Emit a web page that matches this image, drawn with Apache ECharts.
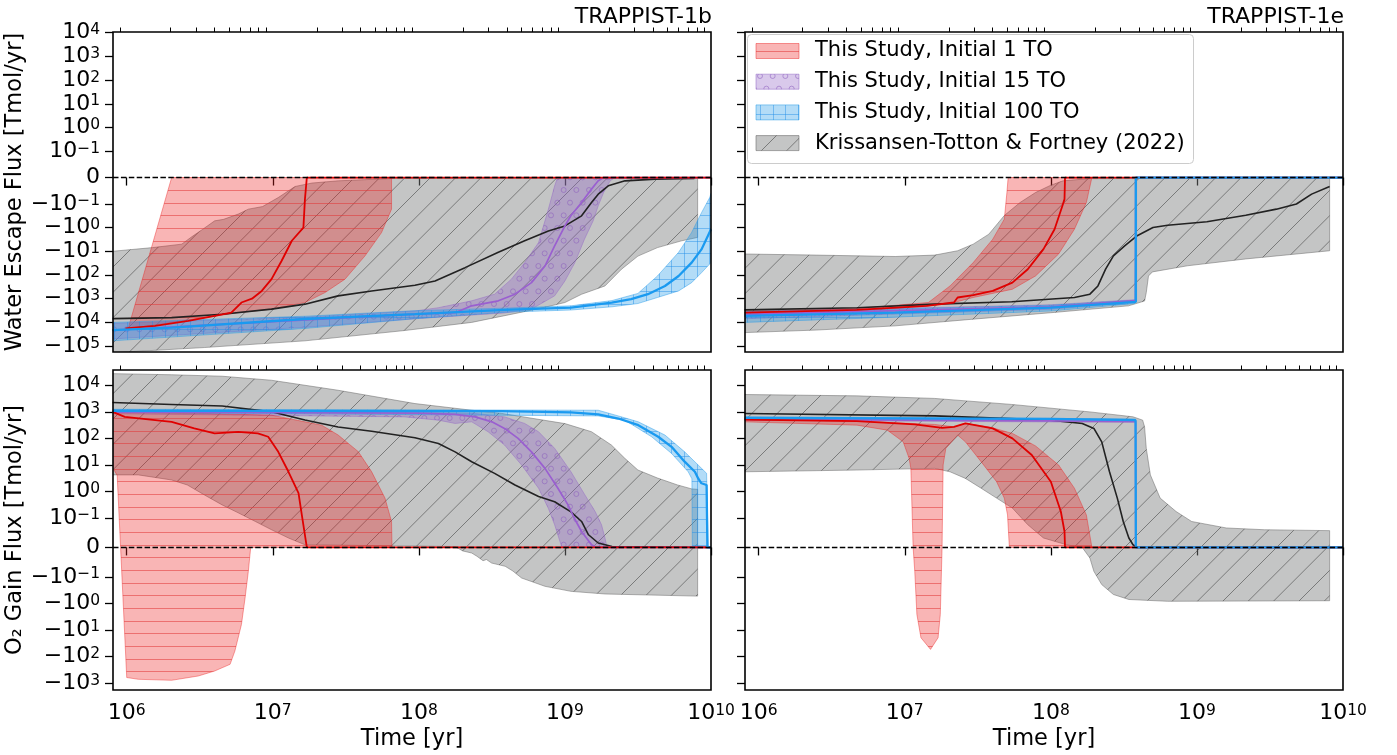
<!DOCTYPE html>
<html><head><meta charset="utf-8">
<script src="https://cdn.jsdelivr.net/npm/echarts@6/dist/echarts.min.js"></script>
<style>html,body{margin:0;padding:0;background:#fff}#c{width:1397px;height:755px}</style>
</head><body><div id="c"></div>
<script>
// ---------------- tick data ----------------
const xMajorYears = [1e6, 1e7, 1e8, 1e9, 1e10];
const yTicksTop = [1e4, 1e3, 1e2, 1e1, 1, 1e-1, 0, -1e-1, -1, -1e1, -1e2, -1e3, -1e4, -1e5];
const yTicksBottom = [1e4, 1e3, 1e2, 1e1, 1, 1e-1, 0, -1e-1, -1, -1e1, -1e2, -1e3];
const panelTitles = ['TRAPPIST-1b', 'TRAPPIST-1e'];
const legendNames = ['This Study, Initial 1 TO', 'This Study, Initial 15 TO', 'This Study, Initial 100 TO', 'Krissansen-Totton & Fortney (2022)'];

// ---------------- TRAPPIST-1b : water escape flux [Tmol/yr] ([time yr, flux]) ----------------
const b_we_gray_hi = [[8.0e5,-10],[1.5e6,-7],[2.38e6,-5],[2.8e6,-2.4],[3.3e6,-1.2],[4.0e6,-0.52],[4.6e6,-0.45],[5.8e6,-0.27],[6.8e6,-0.167],[8.5e6,-0.13],[1.09e7,-0.076],[1.42e7,-0.034],[1.85e7,-0.021],[2.8e7,-0.0125],[6.5e7,-0.0038],[5e8,-0.003],[8.1e9,-0.002]];
const b_we_gray_lo = [[8.0e5,-1.9e5],[3.4e6,-1.15e5],[1.66e7,-6e4],[8e7,-2.2e4],[2.3e8,-1e4],[6.5e8,-2.7e3],[1e9,-1.45e3],[1.3e9,-650],[1.88e9,-290],[2.44e9,-57],[3.16e9,-16],[4.3e9,-7],[6.3e9,-3.6],[8.1e9,-2.6]];
const b_we_black = [[8.0e5,-6.9e3],[2.03e6,-6.3e3],[4.5e6,-4.5e3],[9.8e6,-2.75e3],[1.66e7,-1.7e3],[2.8e7,-760],[4.75e7,-470],[9.4e7,-270],[1.29e8,-178],[2.07e8,-49],[3.5e8,-11],[5.3e8,-3.6],[7.7e8,-1.38],[1.0e9,-0.85],[1.3e9,-0.32],[1.52e9,-0.095],[1.69e9,-0.063],[1.98e9,-0.0315],[2.58e9,-0.0125],[4.15e9,-0.006],[7.7e9,-0.0038]];
const b_we_red_hi = [[1.02e6,-1.9e4],[2.03e6,0],[6.5e7,0]];
const b_we_red_lo = [[1.02e6,-1.9e4],[2.03e6,-1.0e4],[3.4e6,-6.3e3],[5.8e6,-3.9e3],[9.8e6,-2.75e3],[1.66e7,-1.45e3],[2.28e7,-550],[3.12e7,-150],[4.28e7,-15.6],[5.55e7,-1.63],[6.5e7,-0.167]];
const b_we_red = [[9.8e5,-1.8e4],[1.56e6,-1.4e4],[2.64e6,-8.7e3],[4.0e6,-5.3e3],[5.2e6,-3.9e3],[6.1e6,-1.45e3],[7.2e6,-1.0e3],[8.4e6,-470],[9.8e6,-150],[1.15e7,-25],[1.35e7,-3.6],[1.62e7,-1.0],[1.66e7,-0.082],[1.71e7,0],[1e10,0]];
const b_we_purple_hi = [[8.0e5,-1.1e4],[1.66e7,-6e3],[9.4e7,-3.3e3],[1.36e8,-2.4e3],[2.3e8,-1.23e3],[3.3e8,-645],[4.3e8,-150],[5.3e8,-30],[6.6e8,-4.3],[7.7e8,-0.17],[8.5e8,-0.032],[8.9e8,0]];
const b_we_purple_lo = [[8.0e5,-5e4],[1.66e7,-1.6e4],[9.4e7,-7e3],[3.86e8,-4e3],[5.9e8,-2.75e3],[8.5e8,-760],[1e9,-178],[1.17e9,-30],[1.36e9,-3.1],[1.56e9,-0.52],[1.69e9,-0.12],[1.84e9,-0.057],[2.04e9,-0.0125],[2.2e9,0]];
const b_we_purple = [[8.0e5,-2.1e4],[9.4e7,-4.5e3],[1.77e8,-3.9e3],[2.3e8,-2.0e3],[3.5e8,-1.23e3],[4.55e8,-645],[5.9e8,-210],[7.3e8,-42],[8.5e8,-5.9],[1.0e9,-0.85],[1.1e9,-0.31],[1.3e9,-0.095],[1.52e9,-0.044],[1.69e9,-0.0125],[1.84e9,0],[1e10,0]];
const b_we_blue_hi = [[8.0e5,-1.0e4],[1.66e7,-5.5e3],[9.4e7,-3.2e3],[3.9e8,-2.5e3],[1.1e9,-2.0e3],[2.1e9,-1.2e3],[3.16e9,-600],[4.3e9,-110],[6.0e9,-11],[7.37e9,-1.6],[8.63e9,-0.23],[9.8e9,-0.076],[1e10,-0.06]];
const b_we_blue_lo = [[8.0e5,-6e4],[1.66e7,-1.8e4],[9.4e7,-7e3],[3.9e8,-3.7e3],[1.1e9,-3.0e3],[2.1e9,-2.2e3],[3.16e9,-1.6e3],[4.3e9,-890],[6e9,-470],[7.37e9,-210],[8.63e9,-79],[1e10,-30]];
const b_we_blue = [[8.0e5,-2.1e4],[2.03e6,-1.66e4],[1.66e7,-7.2e3],[9.4e7,-4.5e3],[3.86e8,-2.95e3],[1.1e9,-2.4e3],[2.09e9,-1.45e3],[2.84e9,-1.05e3],[3.7e9,-645],[4.84e9,-290],[6.0e9,-110],[7.37e9,-30],[8.63e9,-8.1],[1e10,-1.17]];

// ---------------- TRAPPIST-1e : water escape flux ----------------
const e_we_gray_hi = [[8.0e5,-13],[2.5e6,-14.5],[8.6e6,-16.6],[1.6e7,-14.5],[2.3e7,-9.5],[2.94e7,-5.0],[3.76e7,-1.9],[4.8e7,-0.31],[6.15e7,-0.095],[7.85e7,-0.057],[1.0e8,-0.029],[1.21e8,-0.0125],[1.85e8,-0.004],[8.1e9,-0.003]];
const e_we_gray_lo = [[8.0e5,-2.7e4],[2.5e6,-2.1e4],[8.6e6,-1.4e4],[2.94e7,-7.3e3],[1e8,-3.9e3],[3.4e8,-2.0e3],[4.38e8,-1.25e3],[4.5e8,-550],[4.66e8,-110],[4.96e8,-74],[8.6e8,-41],[2.16e9,-21],[8.1e9,-9.5]];
const e_we_black = [[8.0e5,-2.95e3],[4.7e6,-2.4e3],[1.6e7,-1.7e3],[5.4e7,-1.35e3],[1.45e8,-890],[1.85e8,-645],[2.1e8,-290],[2.37e8,-57],[2.68e8,-15.6],[3.2e8,-5.9],[3.9e8,-2.2],[5e8,-1.0],[6.3e8,-0.8],[1.17e9,-0.57],[2.16e9,-0.30],[3.5e9,-0.167],[4.8e9,-0.101],[6.1e9,-0.063],[8.1e9,-0.034]];
const e_we_red_hi = [[8.0e5,-3.3e3],[4.7e6,-2.6e3],[1.45e7,-1.45e3],[2.04e7,-290],[2.94e7,-30],[4.0e7,-3.1],[4.8e7,-0.44],[5.0e7,-0.057],[5.1e7,0],[1.91e8,0]];
const e_we_red_lo = [[8.0e5,-4.6e3],[4.7e6,-3.4e3],[1.45e7,-2.0e3],[2.17e7,-1.45e3],[2.94e7,-890],[5.45e7,-400],[7.85e7,-110],[1.13e8,-13],[1.45e8,-1.17],[1.75e8,-0.095],[1.91e8,0]];
const e_we_red = [[8.0e5,-3.9e3],[4.7e6,-2.95e3],[1.41e7,-2.0e3],[2.17e7,-1.45e3],[2.3e7,-890],[2.94e7,-710],[4.0e7,-470],[5.45e7,-210],[6.95e7,-57],[8.9e7,-8.1],[1.06e8,-1.17],[1.2e8,-0.12],[1.24e8,-0.082],[1.25e8,0],[1e10,0]];
const e_we_purple_hi = [[8.0e5,-3.6e3],[1e8,-1.8e3],[3.8e8,-1.1e3],[3.82e8,0]];
const e_we_purple_lo = [[8.0e5,-7e3],[1e8,-2.8e3],[3.8e8,-1.4e3],[3.81e8,0]];
const e_we_purple = [[8.0e5,-4.6e3],[1e8,-2.2e3],[3.8e8,-1.2e3],[3.81e8,0],[1e10,0]];
const e_we_blue_hi = [[8.0e5,-3.4e3],[8.6e6,-2.7e3],[1e8,-1.9e3],[3.78e8,-1.15e3],[3.86e8,0]];
const e_we_blue_lo = [[8.0e5,-1e4],[8.6e6,-6e3],[1e8,-3.3e3],[3.76e8,-1.6e3],[3.78e8,0]];
const e_we_blue = [[8.0e5,-5.3e3],[8.6e6,-3.9e3],[1e8,-2.4e3],[3.82e8,-1.35e3],[3.82e8,0],[1e10,0]];

// ---------------- TRAPPIST-1b : O2 gain flux ----------------
const b_o2_gray_hi = [[8.0e5,2.75e4],[2.03e6,2.5e4],[4.5e6,2.2e4],[9.8e6,1.55e4],[2.8e7,6.5e3],[9.4e7,2.05e3],[2.3e8,1.15e3],[3.7e8,870],[1e9,360],[1.52e9,178],[2.08e9,56],[2.57e9,17.7],[3.16e9,6.4],[4.3e9,3.2],[5.9e9,1.75],[7.4e9,1.24],[8.1e9,1.2]];
const b_o2_gray_lo = [[8.0e5,4.2],[1.2e6,4.2],[2.03e6,2.7],[2.6e6,1.75],[3.4e6,0.74],[4.5e6,0.31],[5.8e6,0.156],[7.6e6,0.088],[9.8e6,0.06],[1.28e7,0.032],[1.66e7,0.009],[1.77e8,0.003],[2.0e8,-0.012],[2.3e8,-0.019],[2.5e8,-0.03],[2.75e8,-0.045],[2.9e8,-0.041],[3.15e8,-0.053],[3.9e8,-0.064],[4.4e8,-0.08],[5.05e8,-0.11],[7.3e8,-0.226],[1.1e9,-0.35],[1.88e9,-0.44],[8.1e9,-0.53]];
const b_o2_black = [[8.0e5,2.24e3],[2.03e6,1.9e3],[4.5e6,1.66e3],[9.8e6,1.0e3],[1.66e7,490],[2.8e7,270],[4.75e7,186],[9.4e7,105],[1.36e8,64],[1.77e8,31],[2.3e8,13.2],[3.3e8,4.8],[4.55e8,1.75],[6.6e8,0.64],[8.5e8,0.41],[1.1e9,0.17],[1.3e9,0.088],[1.45e9,0.043],[1.69e9,0.015],[2.1e9,0.003],[1e10,0]];
const b_o2_red_hi = [[8.0e5,1.0e3],[3.4e6,870],[9.8e6,750],[1.66e7,420],[2.16e7,315],[2.8e7,134],[3.85e7,31.5],[4.75e7,5.5],[5.86e7,0.56],[6.5e7,0.088],[6.55e7,0]];
const b_o2_red_lo = [[8.0e5,8],[8.6e5,4],[1.0e6,-620],[1.2e6,-723],[2.03e6,-789],[3.09e6,-543],[4.0e6,-352],[5.1e6,-197],[5.5e6,-62.5],[6.1e6,-6.2],[6.46e6,-0.62],[6.8e6,-0.081],[7.06e6,0],[6.55e7,0]];
const b_o2_red = [[8.0e5,1.0e3],[9.7e5,645],[2.03e6,419],[2.9e6,237],[4.0e6,154],[5.8e6,176],[7.9e6,154],[9.3e6,115],[1.09e7,31],[1.28e7,5.5],[1.5e7,0.86],[1.58e7,0.13],[1.71e7,0],[1e10,0]];
const b_o2_purple_hi = [[8.0e5,1.15e3],[8e7,995],[2.43e8,868],[3.86e8,645],[5.3e8,365],[6.6e8,177],[8.5e8,42],[1.1e9,5.5],[1.37e9,0.74],[1.61e9,0.175],[1.78e9,0.077],[1.88e9,0.032],[1.94e9,0]];
const b_o2_purple_lo = [[8.0e5,850],[8e7,645],[1.36e8,485],[1.77e8,365],[2.3e8,420],[2.98e8,177],[3.86e8,56],[5.05e8,9.9],[6.6e8,1.32],[7.7e8,0.23],[8.5e8,0.077],[9.4e8,0.009],[9.5e8,0]];
const b_o2_purple = [[8.0e5,1.0e3],[1e8,900],[1.77e8,800],[2.43e8,645],[3.16e8,419],[3.86e8,237],[4.78e8,100],[5.9e8,31],[7.3e8,7.4],[8.95e8,1.32],[1.05e9,0.31],[1.16e9,0.099],[1.3e9,0.054],[1.52e9,0.009],[1.65e9,0],[1e10,0]];
const b_o2_blue_hi = [[8.0e5,1.25e3],[1.69e9,1.15e3],[2.32e9,700],[3.18e9,420],[4.84e9,133],[6.6e9,31],[8.17e9,9.9],[9.33e9,4.8],[9.57e9,0]];
const b_o2_blue_lo = [[8.0e5,950],[1.69e9,700],[2.58e9,480],[3.92e9,115],[5.37e9,27],[6.98e9,5.5],[7.4e9,3.0],[7.45e9,0]];
const b_o2_blue = [[8.0e5,1.1e3],[3.7e8,1.06e3],[1.1e9,950],[1.69e9,800],[2.32e9,560],[3.18e9,315],[4.35e9,115],[5.37e9,48],[6.6e9,13.2],[7.76e9,5.5],[8.17e9,3.1],[8.6e9,2.03],[9.33e9,1.75],[9.45e9,0],[1e10,0]];

// ---------------- TRAPPIST-1e : O2 gain flux ----------------
const e_o2_gray_hi = [[8.0e5,4.5e3],[4.7e6,4.0e3],[1.6e7,3.2e3],[5.4e7,1.9e3],[1.85e8,995],[3.65e8,650],[4.25e8,486],[4.38e8,272],[4.5e8,42],[4.8e8,4.2],[5.6e8,0.56],[7.2e8,0.175],[9.2e8,0.088],[1.59e9,0.066],[2.9e9,0.06],[8.1e9,0.057]];
const e_o2_gray_lo = [[8.0e5,5.5],[4.7e6,6.4],[1.6e7,7.4],[2.04e7,5.5],[2.6e7,3.1],[3.33e7,1.32],[4.25e7,0.56],[5.45e7,0.236],[6.95e7,0.077],[8.9e7,0.032],[1.28e8,0.009],[1.64e8,0],[1.85e8,-0.036],[1.97e8,-0.081],[2.23e8,-0.195],[2.68e8,-0.46],[3.42e8,-0.71],[6.3e8,-0.83],[8.1e9,-0.79]];
const e_o2_black = [[8.0e5,868],[1.6e7,705],[1e8,486],[1.64e8,365],[1.97e8,237],[2.23e8,74],[2.52e8,5.5],[2.85e8,0.56],[3.13e8,0.088],[3.42e8,0.032],[3.65e8,0.009],[3.9e8,0],[1e10,0]];
const e_o2_red_hi = [[8.0e5,515],[4.7e6,445],[1.6e7,335],[2.17e7,272],[2.6e7,365],[3.76e7,272],[5.45e7,154],[7.85e7,52],[1.13e8,9.9],[1.45e8,1.32],[1.75e8,0.13],[1.91e8,0]];
const e_o2_red_lo = [[8.0e5,419],[4.7e6,315],[7.6e6,204],[9.75e6,74],[1.07e7,17.7],[1.1e7,7.4],[1.14e7,0],[1.17e7,-0.081],[1.21e7,-2.6],[1.29e7,-19.6],[1.5e7,-54],[1.69e7,-19.6],[1.75e7,-2.6],[1.8e7,0],[1.83e7,9.9],[1.91e7,42],[2.3e7,133],[2.6e7,74],[3.33e7,13.2],[4.25e7,2.33],[4.8e7,0.56],[5.05e7,0.13],[5.2e7,0],[1.91e8,0]];
const e_o2_red = [[8.0e5,515],[4.7e6,445],[1.17e7,335],[1.8e7,250],[2.17e7,272],[2.6e7,365],[4.0e7,237],[5.45e7,100],[7.4e7,23.5],[1e8,2.33],[1.17e8,0.175],[1.24e8,0.054],[1.25e8,0],[1e10,0]];
const e_o2_purple_hi = [[8.0e5,560],[3.8e8,470],[3.81e8,0]];
const e_o2_purple_lo = [[8.0e5,480],[3.8e8,400],[3.8e8,0]];
const e_o2_purple = [[8.0e5,530],[3.8e8,440],[3.81e8,0],[1e10,0]];
const e_o2_blue_hi = [[8.0e5,650],[3.8e8,540],[3.84e8,0]];
const e_o2_blue_lo = [[8.0e5,540],[3.8e8,440],[3.8e8,0]];
const e_o2_blue = [[8.0e5,590],[1e8,540],[3.8e8,486],[3.82e8,0],[1e10,0]];

// ---------------- helpers ----------------
const XMIN = 5.906, XMAX = 10;
const LS = 1 / (1 - 1 / 10);               // matplotlib symlog, linthresh 0.1, linscale 1
function U(v) { const a = Math.abs(v); if (a <= 0.1) return v / 0.1 * LS; return Math.sign(v) * (LS + Math.log10(a / 0.1)); }
function P(pts) { return pts.map(p => [Math.log10(p[0]), U(p[1])]); }
const FONT = '"DejaVu Sans", Verdana, sans-serif';

function mk(w, h, draw) { const c = document.createElement('canvas'); c.width = w; c.height = h; draw(c.getContext('2d')); return c; }
const T = 76, S = T / 6;
const pat = {
  red: mk(T, T, g => { g.strokeStyle = 'rgba(225,55,55,0.55)'; g.lineWidth = 1; for (let k = 0; k < 6; k++) { const y = Math.round(k * S) + 0.5; g.beginPath(); g.moveTo(0, y); g.lineTo(T, y); g.stroke(); } }),
  blue: mk(T, T, g => { g.strokeStyle = 'rgba(30,140,230,0.45)'; g.lineWidth = 1; for (let k = 0; k < 6; k++) { const p = Math.round(k * S) + 0.5; g.beginPath(); g.moveTo(0, p); g.lineTo(T, p); g.moveTo(p, 0); g.lineTo(p, T); g.stroke(); } }),
  gray: mk(T, T, g => { g.strokeStyle = 'rgba(60,60,60,0.55)'; g.lineWidth = 1; for (let k = 0; k <= 6; k++) { const c = k * T / 3; g.beginPath(); g.moveTo(c, 0); g.lineTo(c - T, T); g.stroke(); } }),
  purple: mk(T, T, g => { g.strokeStyle = 'rgba(140,95,190,0.55)'; g.lineWidth = 1; for (let r = 0; r <= 6; r++) { for (let k = -1; k <= 6; k++) { const x = (r % 2 ? (k + 0.5) : k) * S, y = r * S; g.beginPath(); g.arc(x, y, 2.5, 0, Math.PI * 2); g.stroke(); } } })
};
const P_OBJ = {}; Object.keys(pat).forEach(k => P_OBJ[k] = { image: pat[k], repeat: 'repeat' });
const STY = {
  gray:   { fill: 'rgba(124,127,127,0.45)', stroke: 'rgba(100,100,100,0.55)' },
  red:    { fill: 'rgba(236,30,30,0.33)',  stroke: 'rgba(236,30,30,0.45)' },
  purple: { fill: 'rgba(146,101,198,0.35)', stroke: 'rgba(146,101,198,0.5)' },
  blue:   { fill: 'rgba(38,155,232,0.35)',  stroke: 'rgba(38,155,232,0.5)' }
};
const LINE = { black: ['#222222', 1.6], purple: ['#9a5fd0', 1.7], red: ['#e00000', 1.8], blue: ['#1a9af0', 2.3] };

function band(hi, lo, key, gi, z) {
  const pts = P(hi).concat(P(lo).reverse());
  const mid = pts[Math.floor(pts.length / 2)];
  return {
    type: 'custom', xAxisIndex: gi * 2, yAxisIndex: gi, clip: true, silent: true, z: z, animation: false,
    data: [mid],
    renderItem: function (params, api) {
      const poly = pts.map(p => api.coord(p));
      return { type: 'group', children: [
        { type: 'polygon', shape: { points: poly }, style: { fill: STY[key].fill, stroke: STY[key].stroke, lineWidth: 0.9 } },
        { type: 'polygon', shape: { points: poly }, style: { fill: P_OBJ[key], stroke: null } }
      ] };
    }
  };
}
function line(pts, key, gi, z) {
  return { type: 'line', xAxisIndex: gi * 2, yAxisIndex: gi, data: P(pts), showSymbol: false, symbol: 'none', silent: true, z: z, animation: false,
    lineStyle: { color: LINE[key][0], width: LINE[key][1] } };
}

const panels = [
  { gray: [b_we_gray_hi, b_we_gray_lo], purple: [b_we_purple_hi, b_we_purple_lo], red: [b_we_red_hi, b_we_red_lo], blue: [b_we_blue_hi, b_we_blue_lo], black: b_we_black, pl: b_we_purple, rl: b_we_red, bl: b_we_blue },
  { gray: [e_we_gray_hi, e_we_gray_lo], purple: [e_we_purple_hi, e_we_purple_lo], red: [e_we_red_hi, e_we_red_lo], blue: [e_we_blue_hi, e_we_blue_lo], black: e_we_black, pl: e_we_purple, rl: e_we_red, bl: e_we_blue },
  { gray: [b_o2_gray_hi, b_o2_gray_lo], purple: [b_o2_purple_hi, b_o2_purple_lo], red: [b_o2_red_hi, b_o2_red_lo], blue: [b_o2_blue_hi, b_o2_blue_lo], black: b_o2_black, pl: b_o2_purple, rl: b_o2_red, bl: b_o2_blue },
  { gray: [e_o2_gray_hi, e_o2_gray_lo], purple: [e_o2_purple_hi, e_o2_purple_lo], red: [e_o2_red_hi, e_o2_red_lo], blue: [e_o2_blue_hi, e_o2_blue_lo], black: e_o2_black, pl: e_o2_purple, rl: e_o2_red, bl: e_o2_blue }
];

const gridRects = [
  { left: 113, top: 32, width: 598, height: 320 },
  { left: 745, top: 32, width: 598, height: 320 },
  { left: 113, top: 370, width: 598, height: 320 },
  { left: 745, top: 370, width: 598, height: 320 }
];

function powLabel(v) {
  if (v === 0) return '{b|0}';
  const e = Math.round(Math.log10(Math.abs(v)));
  return '{b|' + (v < 0 ? '\u221210' : '10') + '}{e|' + (e < 0 ? '\u2212' : '') + Math.abs(e) + '}';
}
const rich = {
  b: { fontSize: 22, fontFamily: FONT, color: '#000', lineHeight: 21 },
  e: { fontSize: 15.5, fontFamily: FONT, color: '#000', lineHeight: 12, verticalAlign: 'top' }
};
const xMajor = xMajorYears.map(Math.log10);
const xMinor = [];
for (let n = 5; n <= 9; n++) for (let k = 2; k <= 9; k++) { const v = Math.log10(k * Math.pow(10, n)); if (v > XMIN && v < XMAX) xMinor.push(v); }

const xAxes = [], yAxes = [], series = [];
gridRects.forEach((g, i) => {
  const bottomRow = i >= 2, leftCol = i % 2 === 0;
  xAxes.push({
    type: 'value', gridIndex: i, min: XMIN, max: XMAX, axisLine: { show: false }, splitLine: { show: false },
    axisTick: { show: true, customValues: xMajor, length: 8, lineStyle: { color: '#000', width: 1.3 } },
    axisLabel: { show: bottomRow, customValues: xMajor, margin: 13, showMinLabel: true, showMaxLabel: true, hideOverlap: false,
      formatter: v => powLabel(Math.pow(10, Math.round(v))), rich: rich },
    name: bottomRow ? 'Time [yr]' : '', nameLocation: 'middle', nameGap: 38,
    nameTextStyle: { fontSize: 22.5, fontFamily: FONT, color: '#000' }
  });
  xAxes.push({
    type: 'value', gridIndex: i, min: XMIN, max: XMAX, axisLine: { show: false }, splitLine: { show: false },
    axisTick: { show: true, customValues: xMinor, length: 4.5, lineStyle: { color: '#000', width: 1 } },
    axisLabel: { show: false }
  });
  const ticks = bottomRow ? yTicksBottom : yTicksTop;
  const tv = ticks.map(U);
  yAxes.push({
    type: 'value', gridIndex: i, min: bottomRow ? -5.374 : -7.36, max: bottomRow ? 6.688 : 6.14,
    axisLine: { show: false }, splitLine: { show: false },
    axisTick: { show: true, customValues: tv, length: 8, lineStyle: { color: '#000', width: 1.3 } },
    axisLabel: { show: leftCol, customValues: tv, margin: 13, rich: rich, showMinLabel: true, showMaxLabel: true, hideOverlap: false,
      formatter: function (v) { let bi = 0; tv.forEach((t, j) => { if (Math.abs(t - v) < Math.abs(tv[bi] - v)) bi = j; }); return powLabel(ticks[bi]); } },
    name: leftCol ? (bottomRow ? 'O\u2082 Gain Flux [Tmol/yr]' : 'Water Escape Flux [Tmol/yr]') : '',
    nameLocation: 'middle', nameGap: 72, nameTextStyle: { fontSize: 22.5, fontFamily: FONT, color: '#000' }
  });
  const p = panels[i];
  series.push(band(p.gray[0], p.gray[1], 'gray', i, 2));
  series.push(band(p.purple[0], p.purple[1], 'purple', i, 3));
  series.push(band(p.red[0], p.red[1], 'red', i, 4));
  series.push(band(p.blue[0], p.blue[1], 'blue', i, 5));
  series.push(line(p.black, 'black', i, 6));
  series.push(line(p.pl, 'purple', i, 7));
  series.push(line(p.rl, 'red', i, 8));
  series.push(line(p.bl, 'blue', i, 9));
  series.push({ type: 'line', xAxisIndex: i * 2, yAxisIndex: i, data: [[XMIN, 0], [XMAX, 0]], showSymbol: false, symbol: 'none', silent: true, z: 10, animation: false,
    lineStyle: { color: '#000', width: 1.5, type: [5.5, 2.4] } });
});

const graphics = [];
gridRects.forEach(g => graphics.push({ type: 'rect', z: 90, silent: true, shape: { x: g.left, y: g.top, width: g.width, height: g.height }, style: { fill: null, stroke: '#000', lineWidth: 1.6 } }));
panelTitles.forEach((t, i) => graphics.push({ type: 'text', z: 90, silent: true, x: gridRects[i].left + gridRects[i].width + 1, y: 17,
  style: { text: t, font: '22px ' + FONT, fill: '#000', align: 'right', verticalAlign: 'middle' } }));
graphics.push({ type: 'rect', z: 95, silent: true, shape: { x: 747.5, y: 34.5, width: 446, height: 129, r: 4 }, style: { fill: 'rgba(255,255,255,0.85)', stroke: '#cccccc', lineWidth: 1 } });
const legKeys = ['red', 'purple', 'blue', 'gray'];
legKeys.forEach((k, i) => {
  const y = 43.5 + i * 30.7;
  graphics.push({ type: 'rect', z: 96, silent: true, shape: { x: 756, y: y, width: 43, height: 15 }, style: { fill: '#fff', stroke: null } });
  graphics.push({ type: 'rect', z: 97, silent: true, shape: { x: 756, y: y, width: 43, height: 15 }, style: { fill: STY[k].fill, stroke: STY[k].stroke, lineWidth: 1 } });
  graphics.push({ type: 'rect', z: 98, silent: true, shape: { x: 756, y: y, width: 43, height: 15 }, style: { fill: P_OBJ[k], stroke: null } });
  graphics.push({ type: 'text', z: 99, silent: true, x: 815, y: y + 7.5, style: { text: legendNames[i], font: '21px ' + FONT, fill: '#000', verticalAlign: 'middle' } });
});

const chart = echarts.init(document.getElementById('c'), null, { renderer: 'canvas' });
chart.setOption({
  animation: false,
  backgroundColor: '#fff',
  grid: gridRects.map(g => Object.assign({ containLabel: false }, g)),
  xAxis: xAxes, yAxis: yAxes, series: series, graphic: graphics
});
</script></body></html>
